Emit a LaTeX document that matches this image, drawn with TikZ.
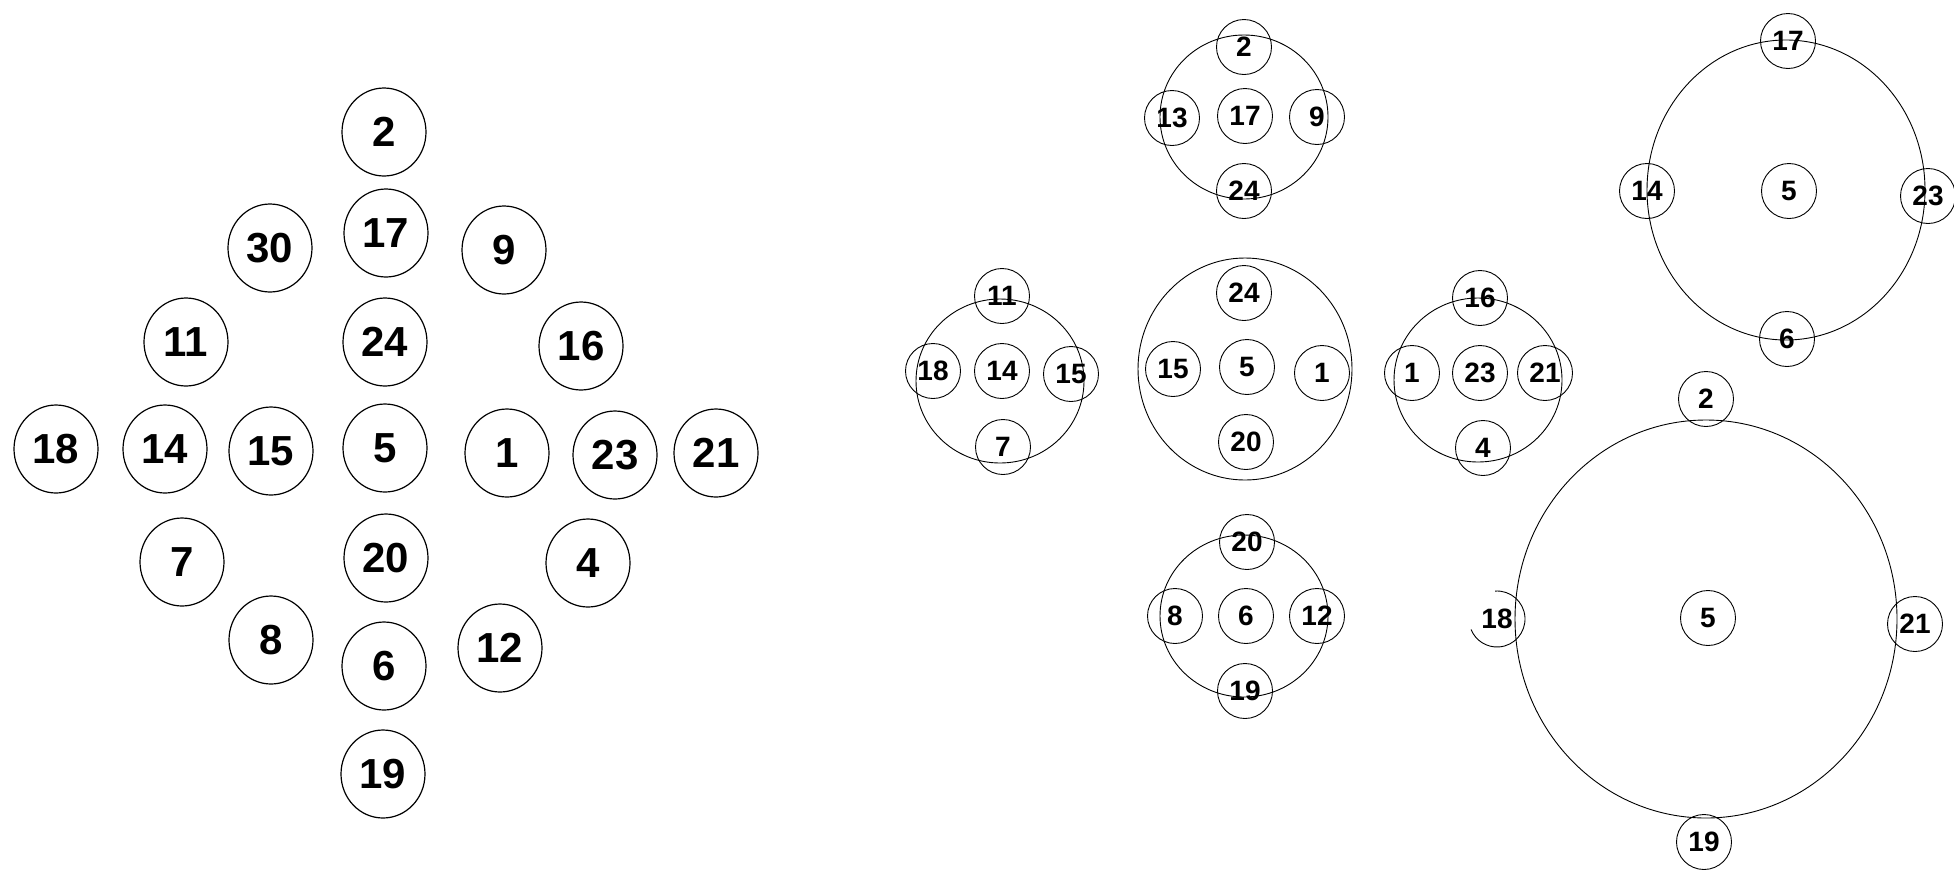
\documentclass[tikz,border=0pt]{standalone}
\usepackage{fontspec}
\setmainfont{Liberation Sans}
\usetikzlibrary{shapes.geometric}
\begin{document}
\begin{tikzpicture}[x=1pt,y=-1pt,
  lnode/.style={ellipse,draw,line width=1.2pt,minimum width=84pt,minimum height=88pt,inner sep=0pt,font=\fontsize{42}{48}\selectfont\bfseries},
  snode/.style={circle,draw,line width=0.9pt,minimum size=55pt,inner sep=0pt,font=\fontsize{28}{32}\selectfont\bfseries},
  stext/.style={inner sep=0pt,font=\fontsize{28}{32}\selectfont\bfseries},
  bignode/.style={ellipse,draw,line width=0.9pt,inner sep=0pt}]
\useasboundingbox (0,0) rectangle (1954,871);
\fill[white] (0,0) rectangle (1954,871);

% ---------- left panel ----------
\node[lnode] (L2)  at (384,132) {2};
\node[lnode] (L17) at (386,233) {17};
\node[lnode] (L30) at (270,248) {30};
\node[lnode] (L9)  at (504,250) {9};
\node[lnode] (L11) at (186,342) {11};
\node[lnode] (L24) at (385,342) {24};
\node[lnode] (L16) at (581,346) {16};
\node[lnode] (L18) at (56,449) {18};
\node[lnode] (L14) at (165,449) {14};
\node[lnode] (L15) at (271,451) {15};
\node[lnode] (L5)  at (385,448) {5};
\node[lnode] (L1)  at (507,453) {1};
\node[lnode] (L23) at (615,455) {23};
\node[lnode] (L21) at (716,453) {21};
\node[lnode] (L7)  at (182,562) {7};
\node[lnode] (L20) at (386,558) {20};
\node[lnode] (L4)  at (588,563) {4};
\node[lnode] (L8)  at (271,640) {8};
\node[lnode] (L6)  at (384,666) {6};
\node[lnode] (L12) at (500,648) {12};
\node[lnode] (L19) at (383,774) {19};

% ---------- cluster A (17) ----------
\node[bignode,minimum width=168pt,minimum height=164pt] (Abig) at (1244,117) {};
\node[snode] (A2)  at (1244,47)  {2};
\node[snode] (A13) at (1172,118) {13};
\node[snode] (A17) at (1245,116) {17};
\node[snode] (A9)  at (1317,117) {9};
\node[snode] (A24) at (1244,191) {24};

% ---------- cluster B (14) ----------
\node[bignode,minimum width=168pt,minimum height=164pt] (Bbig) at (1000,381) {};
\node[snode] (B11) at (1002,296) {11};
\node[snode] (B18) at (933,371)  {18};
\node[snode] (B14) at (1002,371) {14};
\node[snode] (B15) at (1071,374) {15};
\node[snode] (B7)  at (1003,447) {7};

% ---------- cluster C (5) ----------
\node[bignode,minimum width=214pt,minimum height=222pt] (Cbig) at (1245,369) {};
\node[snode] (C24) at (1244,293) {24};
\node[snode] (C15) at (1173,369) {15};
\node[snode] (C5)  at (1247,367) {5};
\node[snode] (C1)  at (1322,373) {1};
\node[snode] (C20) at (1246,442) {20};

% ---------- cluster D (23) ----------
\node[bignode,minimum width=168pt,minimum height=164pt] (Dbig) at (1478,380) {};
\node[snode] (D16) at (1480,298) {16};
\node[snode] (D1)  at (1412,373) {1};
\node[snode] (D23) at (1480,373) {23};
\node[snode] (D21) at (1545,373) {21};
\node[snode] (D4)  at (1483,448) {4};

% ---------- cluster E (6) ----------
\node[bignode,minimum width=168pt,minimum height=162pt] (Ebig) at (1244,616) {};
\node[snode] (E20) at (1247,542) {20};
\node[snode] (E8)  at (1175,616) {8};
\node[snode] (E6)  at (1246,616) {6};
\node[snode] (E12) at (1317,616) {12};
\node[snode] (E19) at (1245,691) {19};

% ---------- cluster F (5, large) ----------
\node[bignode,minimum width=278pt,minimum height=300pt] (Fbig) at (1786,190) {};
\node[snode] (F17) at (1788,41)  {17};
\node[snode] (F14) at (1647,191) {14};
\node[snode] (F5)  at (1789,191) {5};
\node[snode] (F23) at (1928,196) {23};
\node[snode] (F6)  at (1787,339) {6};

% ---------- cluster G (5, largest) ----------
\node[bignode,minimum width=382pt,minimum height=398pt] (Gbig) at (1706,619) {};
\node[snode] (G2)  at (1706,399) {2};
\node[stext] (G18) at (1497,619) {18};
\draw[line width=0.9pt] ([shift={(94:28pt)}]G18.center) arc[start angle=94,end angle=-158,radius=28pt];
\node[snode] (G5)  at (1708,618) {5};
\node[snode] (G21) at (1915,624) {21};
\node[snode] (G19) at (1704,842) {19};
\end{tikzpicture}
\end{document}
